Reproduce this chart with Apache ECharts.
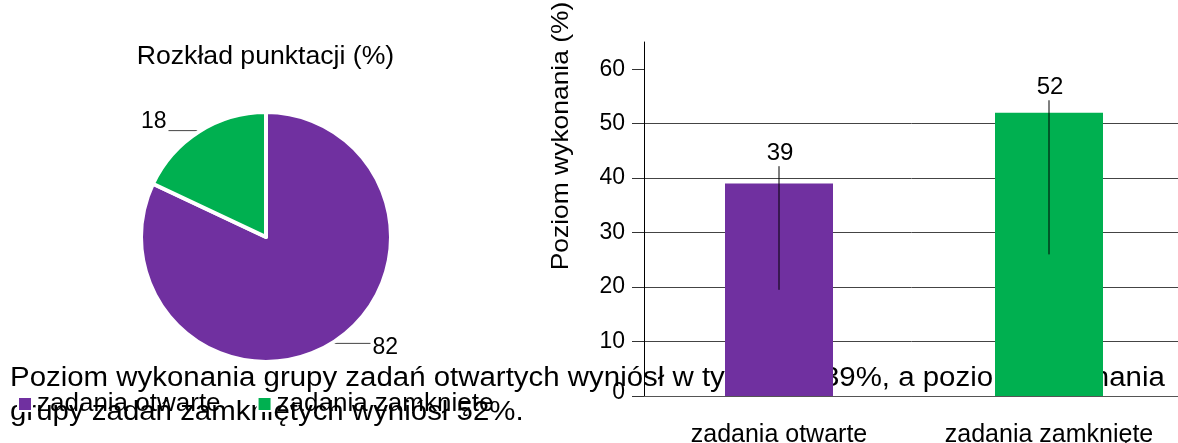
<!DOCTYPE html>
<html>
<head>
<meta charset="utf-8">
<script src="https://cdn.jsdelivr.net/npm/echarts@6/dist/echarts.min.js"></script>
<style>
  html, body { margin: 0; padding: 0; background: #fff; }
  #chart { width: 1178px; height: 443px; }
</style>
</head>
<body>
<div id="chart"></div>
<script>
const categories = ['zadania otwarte', 'zadania zamknięte']
const pointsShare = [82, 18]        // Rozkład punktacji (%)
const successRate = [39, 52]        // Poziom wykonania (%)
const rangeLow = [19.5, 26]
const rangeHigh = [42.2, 54.3]
const yTicks = [0, 10, 20, 30, 40, 50, 60]
const colors = ['#7030A0', '#00B050']

const FONT = '"Liberation Sans", Arial, sans-serif'

const chart = echarts.init(document.getElementById('chart'))

chart.setOption({
  backgroundColor: '#fff',
  color: colors,
  animation: false,
  textStyle: { fontFamily: FONT, color: '#000' },
  legend: {
    data: categories,
    left: 17,
    top: 387,
    padding: 0,
    icon: 'rect',
    itemWidth: 14,
    itemHeight: 14,
    itemGap: 36,
    textStyle: { fontSize: 26, lineHeight: 26, color: '#000', fontFamily: FONT, padding: [0, 0, 8, 0] }
  },
  graphic: [
    {
      type: 'text', x: 265.5, y: 57, scaleX: 1.065, z: 0,
      style: { text: 'Rozkład punktacji (%)', font: '25px ' + FONT, fill: '#000', align: 'center', verticalAlign: 'middle' }
    },
    {
      type: 'text', x: 561, y: 136, rotation: Math.PI / 2, scaleX: 1.1, z: 0,
      style: { text: 'Poziom wykonania (%)', font: '24px ' + FONT, fill: '#000', align: 'center', verticalAlign: 'middle' }
    },
    {
      type: 'text', x: 10, y: 379, scaleX: 1.09, z: 0,
      style: { text: 'Poziom wykonania grupy zadań otwartych wyniósł w tym roku 39%, a poziom wykonania', font: '27px ' + FONT, fill: '#000', align: 'left', verticalAlign: 'middle' }
    },
    {
      type: 'text', x: 10, y: 413, scaleX: 1.09, z: 0,
      style: { text: 'grupy zadań zamkniętych wyniósł 52%.', font: '27px ' + FONT, fill: '#000', align: 'left', verticalAlign: 'middle' }
    }
  ],
  grid: { left: 644, top: 42, width: 540, height: 354, outerBoundsMode: 'none', containLabel: false },
  xAxis: {
    type: 'category',
    data: categories,
    axisLine: { lineStyle: { color: '#555', width: 1 } },
    axisTick: { length: 12, lineStyle: { color: '#444' } },
    axisLabel: { interval: 0, fontSize: 25, color: '#000', margin: 27, fontFamily: FONT, hideOverlap: false }
  },
  yAxis: {
    type: 'value',
    min: 0,
    max: 65,
    interval: 10,
    axisLine: { show: true, lineStyle: { color: '#000', width: 1 } },
    axisTick: { show: true, length: 12, customValues: yTicks, lineStyle: { color: '#333' } },
    axisLabel: {
      customValues: yTicks,
      fontSize: 23,
      color: '#000',
      margin: 19,
      fontFamily: FONT,
      formatter: v => v === 0 ? '{z|0}' : String(v),
      rich: { z: { fontSize: 23, color: '#000', fontFamily: FONT, padding: [0, 0, 6, 0] } }
    },
    splitLine: { show: true, showMaxLine: false, lineStyle: { color: '#444', width: 1 } }
  },
  series: [
    {
      type: 'pie',
      center: [266, 237],
      radius: 125,
      startAngle: 90,
      clockwise: true,
      avoidLabelOverlap: false,
      itemStyle: { borderColor: '#fff', borderWidth: 4 },
      label: {
        show: true,
        position: 'outside',
        fontSize: 23,
        color: '#000',
        fontFamily: FONT,
        distanceToLabelLine: 2,
        rich: {
          dn: { fontSize: 23, color: '#000', fontFamily: FONT, padding: [9, 0, 0, 0] },
          up: { fontSize: 23, color: '#000', fontFamily: FONT, padding: [0, 0, 18, 0] }
        }
      },
      labelLine: { show: true, length: 1, length2: 30, lineStyle: { color: '#444', width: 1 } },
      emphasis: { disabled: true },
      data: categories.map((name, i) => ({
        name,
        value: pointsShare[i],
        label: { formatter: i === 0 ? '{dn|{c}}' : '{up|{c}}' },
        labelLine: { length2: i === 0 ? 37 : 30 }
      }))
    },
    {
      type: 'bar',
      name: 'Poziom wykonania',
      colorBy: 'data',
      barWidth: 108,
      data: successRate,
      emphasis: { disabled: true }
    },
    {
      type: 'custom',
      name: 'zakres',
      z: 5,
      data: categories.map((c, i) => [i, rangeLow[i], rangeHigh[i], successRate[i]]),
      encode: { x: 0, y: [1, 2] },
      renderItem(params, api) {
        const idx = api.value(0)
        const lo = api.coord([idx, api.value(1)])
        const hi = api.coord([idx, api.value(2)])
        return {
          type: 'group',
          children: [
            {
              type: 'line',
              shape: { x1: lo[0], y1: lo[1], x2: hi[0], y2: hi[1] },
              style: { stroke: '#000', lineWidth: 1 }
            },
            {
              type: 'text',
              x: hi[0] + 1,
              y: hi[1] - 1,
              style: { text: String(api.value(3)), font: '24px ' + FONT, fill: '#000', align: 'center', verticalAlign: 'bottom' }
            }
          ]
        }
      }
    }
  ]
})
</script>
</body>
</html>
